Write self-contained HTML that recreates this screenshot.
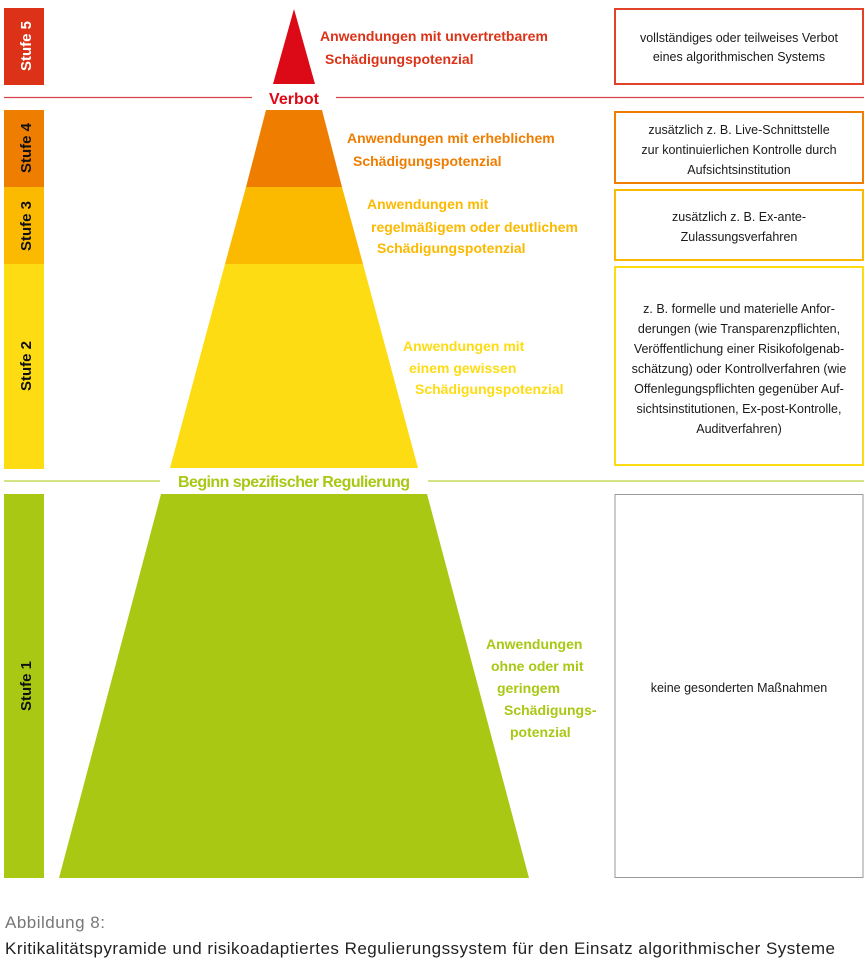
<!DOCTYPE html>
<html><head><meta charset="utf-8"><style>
body{margin:0;background:#fff;width:868px;height:962px;overflow:hidden;font-family:"Liberation Sans",sans-serif}
svg{position:absolute;left:0;top:0}
.lb{font-weight:bold;font-size:14px}
.bx{font-size:12.5px;fill:#1a1a1a}
</style></head><body>
<svg width="868" height="962" viewBox="0 0 868 962" font-family="Liberation Sans, sans-serif">
<rect x="4" y="8" width="40" height="77" fill="#dc3217"/>
<rect x="4" y="110" width="40" height="77" fill="#ee7d00"/>
<rect x="4" y="187" width="40" height="77" fill="#fbb900"/>
<rect x="4" y="264" width="40" height="205" fill="#fddc13"/>
<rect x="4" y="494" width="40" height="384" fill="#a8c813"/>
<g font-weight="bold" font-size="15" text-anchor="middle">
<text transform="translate(31,46) rotate(-90)" fill="#fff">Stufe 5</text>
<text transform="translate(31,148) rotate(-90)" fill="#111">Stufe 4</text>
<text transform="translate(31,226) rotate(-90)" fill="#111">Stufe 3</text>
<text transform="translate(31,366) rotate(-90)" fill="#111">Stufe 2</text>
<text transform="translate(31,686) rotate(-90)" fill="#111">Stufe 1</text>
</g>
<polygon points="294,9 315,84 273,84" fill="#dc0a17"/>
<polygon points="266,110 322,110 342,187 246,187" fill="#ee7d00"/>
<polygon points="246,187 342,187 363,264 225,264" fill="#fbb900"/>
<polygon points="225,264 363,264 418,468 170,468" fill="#fddc13"/>
<polygon points="161,494 427,494 529,878 59,878" fill="#a8c813"/>
<line x1="4" y1="97.5" x2="252" y2="97.5" stroke="#d6404a" stroke-width="1.2"/>
<line x1="336" y1="97.5" x2="864" y2="97.5" stroke="#d6404a" stroke-width="1.2"/>
<text x="294" y="104" text-anchor="middle" font-size="16" font-weight="bold" fill="#dc0a17" textLength="50">Verbot</text>
<line x1="4" y1="481" x2="160" y2="481" stroke="#b8d43a" stroke-width="1.2"/>
<line x1="428" y1="481" x2="864" y2="481" stroke="#b8d43a" stroke-width="1.2"/>
<text x="294" y="487" text-anchor="middle" font-size="16" font-weight="bold" fill="#a8c813" textLength="232">Beginn spezifischer Regulierung</text>
<text x="320" y="41" fill="#dc3217" class="lb">Anwendungen mit unvertretbarem</text>
<text x="325" y="64" fill="#dc3217" class="lb">Schädigungspotenzial</text>
<text x="347" y="143" fill="#ee7d00" class="lb">Anwendungen mit erheblichem</text>
<text x="353" y="166" fill="#ee7d00" class="lb">Schädigungspotenzial</text>
<text x="367" y="209" fill="#fbb900" class="lb">Anwendungen mit</text>
<text x="371" y="232" fill="#fbb900" class="lb">regelmäßigem oder deutlichem</text>
<text x="377" y="253" fill="#fbb900" class="lb">Schädigungspotenzial</text>
<text x="403" y="351" fill="#fddc13" class="lb">Anwendungen mit</text>
<text x="409" y="373" fill="#fddc13" class="lb">einem gewissen</text>
<text x="415" y="394" fill="#fddc13" class="lb">Schädigungspotenzial</text>
<text x="486" y="649" fill="#a8c813" class="lb">Anwendungen</text>
<text x="491" y="671" fill="#a8c813" class="lb">ohne oder mit</text>
<text x="497" y="693" fill="#a8c813" class="lb">geringem</text>
<text x="504" y="715" fill="#a8c813" class="lb">Schädigungs-</text>
<text x="510" y="737" fill="#a8c813" class="lb">potenzial</text>
<rect x="615" y="9" width="248" height="75" fill="none" stroke="#e2412a" stroke-width="2"/>
<rect x="615" y="112" width="248" height="71" fill="none" stroke="#ee7d00" stroke-width="2"/>
<rect x="615" y="190" width="248" height="70" fill="none" stroke="#fbb900" stroke-width="2"/>
<rect x="615" y="267" width="248" height="198" fill="none" stroke="#fddc13" stroke-width="2"/>
<rect x="615" y="494.5" width="248" height="383" fill="none" stroke="#999" stroke-width="1"/>
<g text-anchor="middle">
<text x="739" y="42" class="bx">vollständiges oder teilweises Verbot</text>
<text x="739" y="61" class="bx">eines algorithmischen Systems</text>
<text x="739" y="134" class="bx">zusätzlich z. B. Live-Schnittstelle</text>
<text x="739" y="154" class="bx">zur kontinuierlichen Kontrolle durch</text>
<text x="739" y="174" class="bx">Aufsichtsinstitution</text>
<text x="739" y="221" class="bx">zusätzlich z. B. Ex-ante-</text>
<text x="739" y="241" class="bx">Zulassungsverfahren</text>
<text x="739" y="313" class="bx">z. B. formelle und materielle Anfor-</text>
<text x="739" y="333" class="bx">derungen (wie Transparenzpflichten,</text>
<text x="739" y="353" class="bx">Veröffentlichung einer Risikofolgenab-</text>
<text x="739" y="373" class="bx">schätzung) oder Kontrollverfahren (wie</text>
<text x="739" y="393" class="bx">Offenlegungspflichten gegenüber Auf-</text>
<text x="739" y="413" class="bx">sichtsinstitutionen, Ex-post-Kontrolle,</text>
<text x="739" y="433" class="bx">Auditverfahren)</text>
<text x="739" y="692" class="bx">keine gesonderten Maßnahmen</text>
</g>
<text x="5" y="928" font-size="17" fill="#777" textLength="100">Abbildung 8:</text>
<text x="5" y="954" font-size="17" fill="#222" textLength="830">Kritikalitätspyramide und risikoadaptiertes Regulierungssystem für den Einsatz algorithmischer Systeme</text>
</svg>
</body></html>
